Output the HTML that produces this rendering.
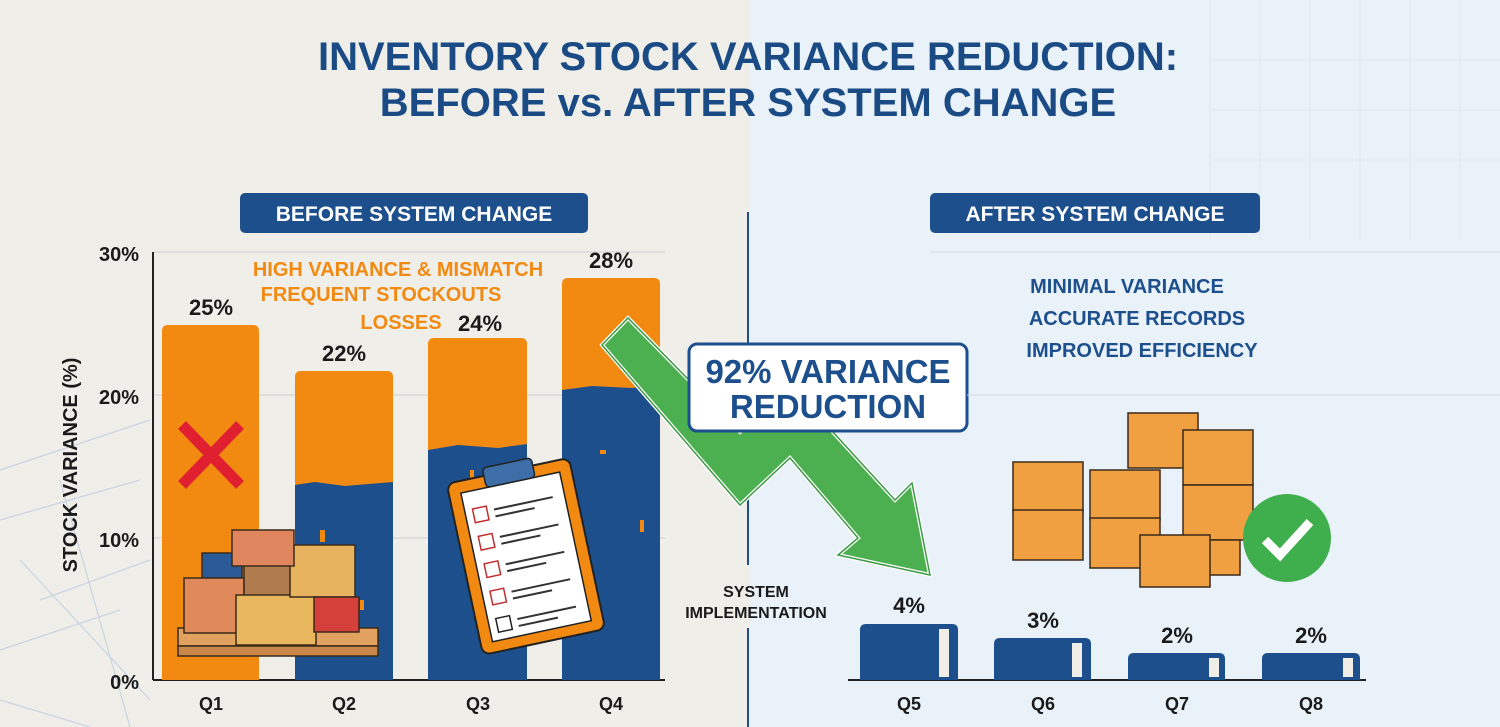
<!DOCTYPE html>
<html><head><meta charset="utf-8"><style>
*{margin:0;padding:0;box-sizing:border-box}
body{width:1500px;height:727px;overflow:hidden;font-family:"Liberation Sans",sans-serif;font-weight:bold}
svg{position:absolute;left:0;top:0}
</style></head><body>
<svg width="1500" height="727" viewBox="0 0 1500 727" font-family="Liberation Sans, sans-serif" font-weight="bold">
<rect x="0" y="0" width="750" height="727" fill="#efeee9"/>
<rect x="750" y="0" width="750" height="727" fill="#e9f1f9"/>
<g stroke="#b9c9df" stroke-width="1.2" fill="none" opacity="0.7">
<path d="M0 470 L150 420 M0 520 L140 480 M20 560 L150 700 M40 600 L150 560 M0 650 L120 610 M60 480 L130 727 M0 700 L90 727"/>
</g>
<g stroke="#e0e8f1" stroke-width="1"><path d="M1210 0V240M1260 0V240M1310 0V240M1360 0V240M1410 0V240M1460 0V240M1210 60H1500M1210 110H1500M1210 160H1500"/></g>
<text x="748" y="70" text-anchor="middle" font-size="40" fill="#1b4b85">INVENTORY STOCK VARIANCE REDUCTION:</text>
<text x="748" y="116" text-anchor="middle" font-size="40" fill="#1b4b85">BEFORE vs. AFTER SYSTEM CHANGE</text>
<rect x="240" y="193" width="348" height="40" rx="5" fill="#1c4f8c"/>
<text x="414" y="221" text-anchor="middle" font-size="21" fill="#fff">BEFORE SYSTEM CHANGE</text>
<rect x="930" y="193" width="330" height="40" rx="5" fill="#1c4f8c"/>
<text x="1095" y="221" text-anchor="middle" font-size="21" fill="#fff">AFTER SYSTEM CHANGE</text>
<line x1="748" y1="212" x2="748" y2="565" stroke="#1c4f8c" stroke-width="2"/>
<line x1="748" y1="628" x2="748" y2="727" stroke="#1c4f8c" stroke-width="2"/>
<g stroke="#cfcfcf" stroke-width="1"><line x1="153" y1="252" x2="665" y2="252"/><line x1="153" y1="395" x2="665" y2="395"/><line x1="153" y1="538" x2="665" y2="538"/></g>
<line x1="153" y1="252" x2="153" y2="680" stroke="#222" stroke-width="2"/>
<line x1="153" y1="680" x2="665" y2="680" stroke="#222" stroke-width="2"/>
<g font-size="20" fill="#1a1a1a" text-anchor="end"><text x="139" y="261">30%</text><text x="139" y="404">20%</text><text x="139" y="547">10%</text><text x="139" y="689">0%</text></g>
<text transform="translate(77 465) rotate(-90)" text-anchor="middle" font-size="20" fill="#1a1a1a">STOCK VARIANCE (%)</text>
<path d="M162 680V331q0-6 6-6h85q6 0 6 6V680z" fill="#f28a12"/>
<path d="M295 680V377q0-6 6-6h86q6 0 6 6V680z" fill="#f28a12"/>
<path d="M295 680V485l20-3 30 4 48-4V680z" fill="#1c4f8c"/>
<path d="M428 680V344q0-6 6-6h87q6 0 6 6V680z" fill="#f28a12"/>
<path d="M428 680V450l30-5 40 3 29-4V680z" fill="#1c4f8c"/>
<path d="M562 680V284q0-6 6-6h86q6 0 6 6V680z" fill="#f28a12"/>
<path d="M562 680V390l30-4 40 2 28-4V680z" fill="#1c4f8c"/>
<g fill="#f28a12"><rect x="320" y="530" width="5" height="12"/><rect x="360" y="600" width="4" height="10"/><rect x="600" y="450" width="6" height="4"/><rect x="640" y="520" width="4" height="12"/><rect x="580" y="610" width="8" height="3"/><rect x="470" y="470" width="4" height="10"/></g>
<g font-size="22" fill="#1a1a1a" text-anchor="middle"><text x="211" y="315">25%</text><text x="344" y="361">22%</text><text x="480" y="331">24%</text><text x="611" y="268">28%</text></g>
<g font-size="20" fill="#f28a12" text-anchor="middle"><text x="398" y="276">HIGH VARIANCE &amp; MISMATCH</text><text x="381" y="301">FREQUENT STOCKOUTS</text><text x="401" y="329">LOSSES</text></g>
<g stroke="#e02030" stroke-width="11"><line x1="182" y1="425" x2="240" y2="485"/><line x1="240" y1="425" x2="182" y2="485"/></g>
<g stroke="#3a2a1a" stroke-width="1.5">
<rect x="178" y="628" width="200" height="18" fill="#e0a25e"/>
<rect x="178" y="646" width="200" height="10" fill="#c9884a"/>
<rect x="202" y="553" width="40" height="28" fill="#2a5a98"/>
<rect x="184" y="578" width="60" height="55" fill="#e08a5c"/>
<rect x="244" y="565" width="60" height="35" fill="#b07c4e"/>
<rect x="236" y="595" width="80" height="50" fill="#e9b75e"/>
<rect x="290" y="545" width="65" height="52" fill="#e8b35e"/>
<rect x="314" y="597" width="45" height="35" fill="#d6403a"/>
<rect x="232" y="530" width="62" height="36" fill="#e0865e"/>
</g>
<g transform="rotate(-12 520 550)">
<rect x="462" y="470" width="125" height="175" rx="8" fill="#f28a12" stroke="#222" stroke-width="2"/>
<rect x="474" y="482" width="101" height="152" fill="#fff" stroke="#222" stroke-width="1.5"/>
<rect x="500" y="462" width="50" height="20" rx="4" fill="#3d6ea8" stroke="#222" stroke-width="1.5"/>
<g stroke="#c03030" stroke-width="1.5" fill="none">
<rect x="482" y="500" width="14" height="14"/><rect x="482" y="528" width="14" height="14"/><rect x="482" y="556" width="14" height="14"/><rect x="482" y="584" width="14" height="14"/>
</g>
<rect x="482" y="612" width="14" height="14" fill="none" stroke="#222" stroke-width="1.5"/>
<g stroke="#333" stroke-width="2"><path d="M503 505h60M503 512h40M503 533h60M503 540h40M503 561h60M503 568h40M503 589h60M503 596h40M503 617h60M503 624h40"/></g>
</g>
<path d="M602 345 L628 318 L740 432 L790 385 L895 500 L912 483 L930 575 L838 555 L858 538 L790 458 L740 505 Z" fill="#4caf50" stroke="#fff" stroke-width="4"/>
<path d="M602 345 L628 318 L740 432 L790 385 L895 500 L912 483 L930 575 L838 555 L858 538 L790 458 L740 505 Z" fill="none" stroke="#3d9a45" stroke-width="1.5"/>
<rect x="689" y="344" width="278" height="87" rx="8" fill="#fff" stroke="#1c4f8c" stroke-width="3"/>
<text x="828" y="383" text-anchor="middle" font-size="33" fill="#1c4f8c">92% VARIANCE</text>
<text x="828" y="418" text-anchor="middle" font-size="33" fill="#1c4f8c">REDUCTION</text>
<g font-size="20" fill="#1c4f8c" text-anchor="middle"><text x="1127" y="293">MINIMAL VARIANCE</text><text x="1137" y="325">ACCURATE RECORDS</text><text x="1142" y="357">IMPROVED EFFICIENCY</text></g>
<line x1="967" y1="395" x2="1500" y2="395" stroke="#d4dde8" stroke-width="1"/>
<line x1="930" y1="252" x2="1500" y2="252" stroke="#d4dde8" stroke-width="1"/>
<g fill="#f0a040" stroke="#3a2a1a" stroke-width="1.5">
<rect x="1013" y="462" width="70" height="50"/><rect x="1013" y="510" width="70" height="50"/>
<rect x="1128" y="413" width="70" height="55"/><rect x="1183" y="430" width="70" height="55"/>
<rect x="1090" y="470" width="70" height="50"/><rect x="1090" y="518" width="70" height="50"/>
<rect x="1183" y="485" width="70" height="55"/><rect x="1180" y="540" width="60" height="35"/>
<rect x="1140" y="535" width="70" height="52"/>
</g>
<circle cx="1287" cy="538" r="44" fill="#3fae4c"/>
<path d="M1265 540 L1280 555 L1310 522" stroke="#fff" stroke-width="9" fill="none"/>
<g font-size="16" fill="#1a1a1a" text-anchor="middle"><text x="756" y="597">SYSTEM</text><text x="756" y="618">IMPLEMENTATION</text></g>
<line x1="848" y1="680" x2="1366" y2="680" stroke="#222" stroke-width="2"/>
<g fill="#1c4f8c">
<path d="M860 680V630q0-6 6-6h86q6 0 6 6V680z"/>
<path d="M994 680V644q0-6 6-6h85q6 0 6 6V680z"/>
<path d="M1128 680V659q0-6 6-6h85q6 0 6 6V680z"/>
<path d="M1262 680V659q0-6 6-6h86q6 0 6 6V680z"/>
</g>
<g fill="#f0ede6"><rect x="939" y="629" width="10" height="48"/><rect x="1072" y="643" width="10" height="34"/><rect x="1209" y="658" width="10" height="19"/><rect x="1343" y="658" width="10" height="19"/></g>
<g font-size="22" fill="#1a1a1a" text-anchor="middle"><text x="909" y="613">4%</text><text x="1043" y="628">3%</text><text x="1177" y="643">2%</text><text x="1311" y="643">2%</text></g>
<g font-size="18" fill="#1a1a1a" text-anchor="middle"><text x="211" y="710">Q1</text><text x="344" y="710">Q2</text><text x="478" y="710">Q3</text><text x="611" y="710">Q4</text><text x="909" y="710">Q5</text><text x="1043" y="710">Q6</text><text x="1177" y="710">Q7</text><text x="1311" y="710">Q8</text></g>
</svg>
</body></html>
